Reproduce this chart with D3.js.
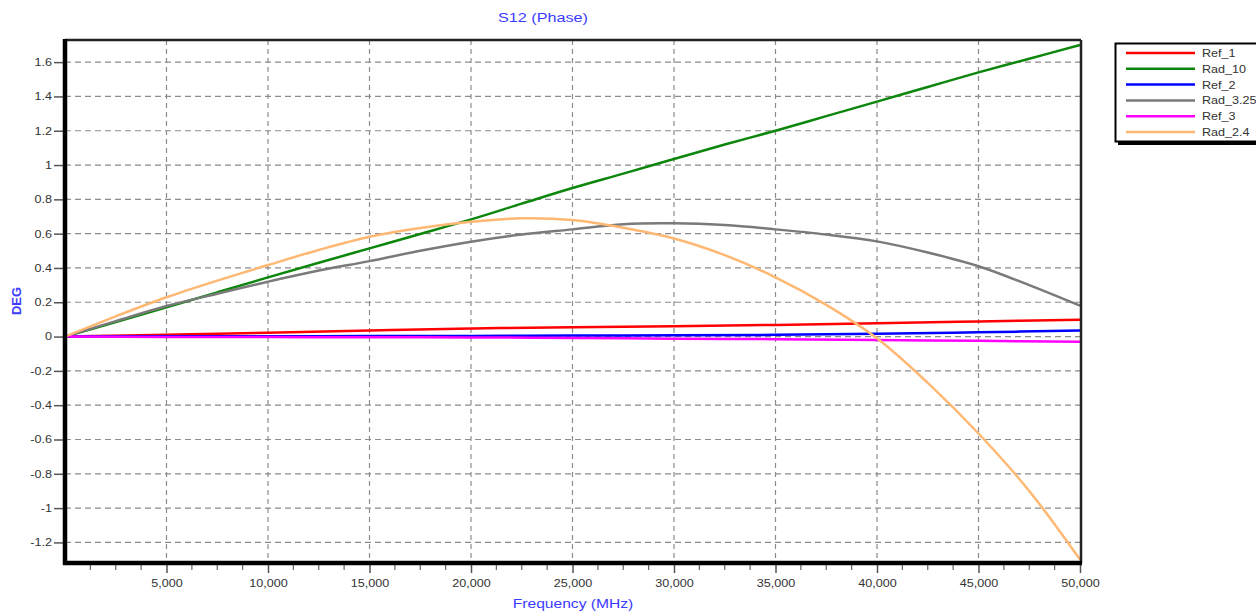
<!DOCTYPE html>
<html>
<head>
<meta charset="utf-8">
<script src="https://cdn.jsdelivr.net/npm/d3@7"></script>
<style>
body { margin: 0; background: #fff; }
text { font-family: "Liberation Sans", Arial, sans-serif; }
</style>
</head>
<body>
<script>
// values (MHz / DEG)
var freq = [0, 2500, 5000, 7500, 10000, 12500, 15000, 17500, 20000, 22500, 25000,
            27500, 30000, 32500, 35000, 37500, 40000, 42500, 45000, 47500, 50000];
var rad10  = [0, 0.085, 0.17, 0.258, 0.345, 0.43, 0.514, 0.598, 0.683, 0.775, 0.866,
              0.95, 1.035, 1.12, 1.2, 1.285, 1.37, 1.455, 1.54, 1.62, 1.70];
var rad325 = [0, 0.09, 0.178, 0.25, 0.32, 0.385, 0.44, 0.5, 0.553, 0.595, 0.625,
              0.655, 0.66, 0.65, 0.625, 0.595, 0.555, 0.49, 0.41, 0.3, 0.18];
var rad24  = [0, 0.118, 0.229, 0.326, 0.417, 0.505, 0.582, 0.633, 0.669, 0.69, 0.68,
              0.635, 0.572, 0.475, 0.345, 0.185, -0.01, -0.27, -0.565, -0.9, -1.3];

var refFreq = [0, 5000, 10000, 15000, 20000, 25000, 30000, 35000, 40000, 45000, 50000];
var ref1 = [0, 0.01, 0.022, 0.036, 0.047, 0.054, 0.06, 0.068, 0.077, 0.088, 0.098];
var ref2 = [0, 0.002, 0.002, 0.003, 0.004, 0.006, 0.008, 0.01, 0.016, 0.025, 0.035];
var ref3 = [0, -0.002, -0.003, -0.004, -0.005, -0.008, -0.012, -0.015, -0.02, -0.025, -0.03];

var xTicks = [5000, 10000, 15000, 20000, 25000, 30000, 35000, 40000, 45000, 50000];
var yTicks = [-1.2, -1, -0.8, -0.6, -0.4, -0.2, 0, 0.2, 0.4, 0.6, 0.8, 1, 1.2, 1.4, 1.6];

var names  = ["Ref_1", "Rad_10", "Ref_2", "Rad_3.25", "Ref_3", "Rad_2.4"];
var colors = ["#ff0000", "#0c870c", "#0000ff", "#7a7a7a", "#ff00ff", "#ffb873"];

var series = [
  {x: refFreq, y: ref1}, {x: freq, y: rad10}, {x: refFreq, y: ref2},
  {x: freq, y: rad325}, {x: refFreq, y: ref3}, {x: freq, y: rad24}
];

var W = 1256, H = 614;
var pL = 65, pR = 1080, pT = 40, pB = 563;
var stretch = 1.2;

var svg = d3.select('body').append('svg').attr('width', W).attr('height', H);

var x = d3.scaleLinear().domain([0, 50000]).range([pL, pR]);
var y = d3.scaleLinear().domain([-1.32, 1.729]).range([pB, pT]);

// grid
svg.append('g').selectAll('line')
  .data(yTicks)
  .enter().append('line')
  .attr('x1', pL).attr('x2', pR)
  .attr('y1', d => y(d)).attr('y2', d => y(d))
  .attr('stroke', '#8c8c8c').attr('stroke-width', 1.2).attr('stroke-dasharray', '6,4');

svg.append('g').selectAll('line')
  .data(xTicks.slice(0, -1))
  .enter().append('line')
  .attr('x1', d => x(d)).attr('x2', d => x(d))
  .attr('y1', pT).attr('y2', pB)
  .attr('stroke', '#8c8c8c').attr('stroke-width', 1.2).attr('stroke-dasharray', '5,4');

// y axis
var yAxis = svg.append('g').attr('transform', 'translate(' + (pL - 2) + ',0)')
  .call(d3.axisLeft(y).tickValues(yTicks).tickSize(9).tickPadding(2).tickFormat(d => String(d)));
yAxis.select('.domain').remove();
yAxis.selectAll('line').attr('stroke', '#555').attr('stroke-width', 1.5);
yAxis.selectAll('text')
  .attr('x', -11 / stretch)
  .attr('transform', 'scale(' + stretch + ',1)')
  .attr('fill', '#333').style('font-size', '10.5px');

// x axis
var xAxis = svg.append('g').attr('transform', 'translate(0,' + (pB + 2) + ')')
  .call(d3.axisBottom(x).tickValues(xTicks).tickSize(8).tickPadding(7).tickFormat(d3.format(',')));
xAxis.select('.domain').remove();
xAxis.selectAll('line').attr('stroke', '#555').attr('stroke-width', 1.5);
xAxis.selectAll('text')
  .attr('transform', 'scale(' + stretch + ',1)')
  .attr('fill', '#333').style('font-size', '10.5px');

var minor = d3.range(1250, 50000, 1250).filter(d => d % 5000 != 0);
svg.append('g').selectAll('line')
  .data(minor)
  .enter().append('line')
  .attr('x1', d => x(d)).attr('x2', d => x(d))
  .attr('y1', pB + 2).attr('y2', pB + 7)
  .attr('stroke', '#666').attr('stroke-width', 1.2);

// series
var line = d3.line().curve(d3.curveCatmullRom.alpha(0.5));
var plot = svg.append('g');
series.forEach(function(s, i) {
  var pts = s.x.map((f, j) => [x(f), y(s.y[j])]);
  plot.append('path')
    .attr('fill', 'none')
    .attr('stroke', colors[i])
    .attr('stroke-width', 2.5)
    .attr('d', line(pts));
});

// frame
svg.append('line').attr('x1', pL).attr('x2', pR + 1).attr('y1', pT).attr('y2', pT)
  .attr('stroke', '#222').attr('stroke-width', 2.5);
svg.append('line').attr('x1', pR + 1).attr('x2', pR + 1).attr('y1', pT).attr('y2', pB)
  .attr('stroke', '#222').attr('stroke-width', 2.5);
svg.append('line').attr('x1', pL).attr('x2', pL).attr('y1', pT - 1).attr('y2', pB + 2)
  .attr('stroke', '#000').attr('stroke-width', 4.5);
svg.append('line').attr('x1', pL - 2).attr('x2', pR + 2).attr('y1', pB).attr('y2', pB)
  .attr('stroke', '#000').attr('stroke-width', 4.5);

// titles
svg.append('text')
  .attr('transform', 'translate(543,22) scale(' + stretch + ',1)')
  .attr('text-anchor', 'middle').attr('fill', '#3b3bff')
  .style('font-size', '13.5px').text('S12 (Phase)');

svg.append('text')
  .attr('transform', 'translate(573,608) scale(' + stretch + ',1)')
  .attr('text-anchor', 'middle').attr('fill', '#3b3bff')
  .style('font-size', '13px').text('Frequency (MHz)');

svg.append('text')
  .attr('transform', 'translate(21,301) rotate(-90)')
  .attr('text-anchor', 'middle').attr('fill', '#3b3bff')
  .style('font-size', '13px').style('font-weight', 'bold').text('DEG');

// legend
var lg = svg.append('g');
lg.append('rect').attr('x', 1118).attr('y', 46).attr('width', 200).attr('height', 99).attr('fill', '#000');
lg.append('rect').attr('x', 1115.5).attr('y', 43.5).attr('width', 200).attr('height', 98)
  .attr('fill', '#fff').attr('stroke', '#000').attr('stroke-width', 2);

var rows = lg.selectAll('g.row').data(names).enter().append('g')
  .attr('transform', (d, i) => 'translate(0,' + (53 + i * 15.8) + ')');
rows.append('line').attr('x1', 1126).attr('x2', 1195).attr('y1', 0).attr('y2', 0)
  .attr('stroke', (d, i) => colors[i]).attr('stroke-width', 2.5);
rows.append('text')
  .attr('transform', 'translate(1202,4) scale(' + stretch + ',1)')
  .attr('fill', '#333').style('font-size', '10.5px').text(d => d);
</script>
</body>
</html>
